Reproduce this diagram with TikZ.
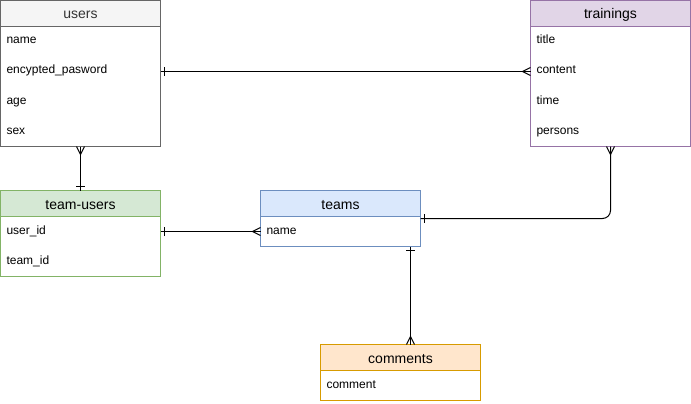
\documentclass[tikz,border=0pt]{standalone}
\usepackage{fontspec}
\setmainfont{Liberation Sans}
\usetikzlibrary{positioning,decorations.markings}

\newlength{\du}
\setlength{\du}{1pt}

\definecolor{usersfill}{HTML}{F5F5F5}
\definecolor{usersline}{HTML}{666666}
\definecolor{userstext}{HTML}{333333}
\definecolor{trainfill}{HTML}{E1D5E7}
\definecolor{trainline}{HTML}{9673A6}
\definecolor{tufill}{HTML}{D5E8D4}
\definecolor{tuline}{HTML}{82B366}
\definecolor{teamsfill}{HTML}{DAE8FC}
\definecolor{teamsline}{HTML}{6C8EBF}
\definecolor{commfill}{HTML}{FFE6CC}
\definecolor{commline}{HTML}{D79B00}

\tikzset{
  tblhead/.style={draw, anchor=north west, outer sep=0pt, inner sep=0pt,
    minimum width=160\du, minimum height=26\du, text height=11\du, text depth=0pt,
    font=\fontsize{14}{16}\selectfont},
  tblbody/.style={draw, fill=white, outer sep=0pt, inner sep=0pt, minimum width=160\du},
  tblrow/.style={outer sep=0pt, inner xsep=6\du, inner ysep=0pt, text width=148\du,
    minimum height=30\du, text height=8\du, text depth=3\du, align=left,
    font=\fontsize{12}{14}\selectfont},
  relation/.style={draw=black},
  % crow's foot and bar ends
  manyfrom/.style={postaction={decorate, decoration={markings, mark=at position 0 with
    {\draw (8\du,0\du) -- (0\du,4\du) (8\du,0\du) -- (0\du,-4\du);}}}},
  manyto/.style={postaction={decorate, decoration={markings, mark=at position 1 with
    {\draw (-8\du,0\du) -- (0\du,4\du) (-8\du,0\du) -- (0\du,-4\du);}}}},
  onefrom/.style={postaction={decorate, decoration={markings, mark=at position 0 with
    {\draw (4\du,-4.5\du) -- (4\du,4.5\du);}}}},
  oneto/.style={postaction={decorate, decoration={markings, mark=at position 1 with
    {\draw (-4\du,-4.5\du) -- (-4\du,4.5\du);}}}}
}

\begin{document}
\begin{tikzpicture}[x=1\du, y=-1\du, line width=1\du]
\useasboundingbox (0,0) rectangle (691,404);

% users
\node[tblhead, fill=usersfill, draw=usersline, text=userstext] (users) at (0.5,0.5) {users};
\node[tblbody, draw=usersline, minimum height=120\du, below=0pt of users] (users-body) {};
\node[tblrow, below=0pt of users] (users-name) {name};
\node[tblrow, below=0pt of users-name] (users-pw) {encypted\_pasword};
\node[tblrow, below=0pt of users-pw] (users-age) {age};
\node[tblrow, below=0pt of users-age] (users-sex) {sex};

% trainings
\node[tblhead, fill=trainfill, draw=trainline] (trainings) at (530.5,0.5) {trainings};
\node[tblbody, draw=trainline, minimum height=120\du, below=0pt of trainings] (trainings-body) {};
\node[tblrow, below=0pt of trainings] (trainings-title) {title};
\node[tblrow, below=0pt of trainings-title] (trainings-content) {content};
\node[tblrow, below=0pt of trainings-content] (trainings-time) {time};
\node[tblrow, below=0pt of trainings-time] (trainings-persons) {persons};

% team-users
\node[tblhead, fill=tufill, draw=tuline] (tu) at (0.5,190.5) {team-users};
\node[tblbody, draw=tuline, minimum height=60\du, below=0pt of tu] (tu-body) {};
\node[tblrow, below=0pt of tu] (tu-user) {user\_id};
\node[tblrow, below=0pt of tu-user] (tu-team) {team\_id};

% teams
\node[tblhead, fill=teamsfill, draw=teamsline] (teams) at (260.5,190.5) {teams};
\node[tblbody, draw=teamsline, minimum height=30\du, below=0pt of teams] (teams-body) {};
\node[tblrow, below=0pt of teams] (teams-name) {name};

% comments
\node[tblhead, fill=commfill, draw=commline] (comments) at (320.5,344.5) {comments};
\node[tblbody, draw=commline, minimum height=30\du, below=0pt of comments] (comments-body) {};
\node[tblrow, below=0pt of comments] (comments-text) {comment};

% relations
\draw[relation, manyfrom, oneto] (users-body.south) -- (tu.north);
\draw[relation, onefrom, manyto] (users-pw.east) -- (trainings-content.west);
\draw[relation, onefrom, manyto] (tu-user.east) -- (teams-name.west);
\draw[relation, manyfrom, oneto, rounded corners=8\du] (trainings-body.south) |- ([yshift=-2\du]teams-name.north east);
\draw[relation, onefrom, manyto] ([xshift=-10\du]teams-name.south east) -- ([xshift=-10\du]teams-name.south east |- comments.north);
\end{tikzpicture}
\end{document}
